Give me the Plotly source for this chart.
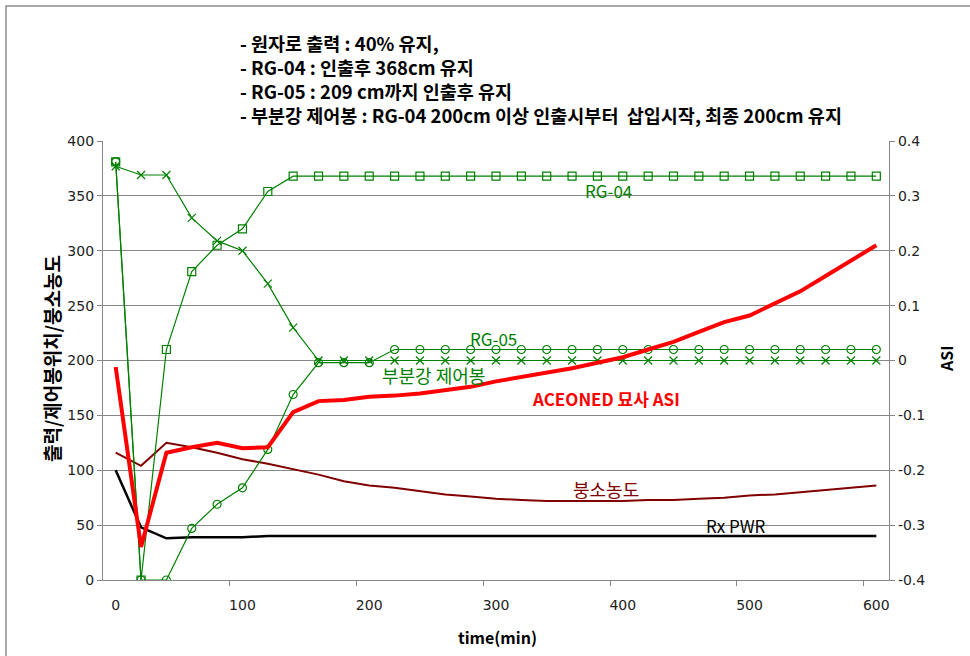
import plotly.graph_objects as go

# ---------------- data ----------------
time_min = list(range(0, 601, 20))

rx_pwr = [100, 48, 38, 39, 39, 39, 40, 40, 40, 40, 40, 40, 40, 40, 40, 40,
          40, 40, 40, 40, 40, 40, 40, 40, 40, 40, 40, 40, 40, 40, 40]

boron = [116, 104, 125, 121, 116, 110, 106, 101, 96, 90, 86, 84, 81, 78, 76, 74,
         73, 72, 72, 72, 72, 73, 73, 74, 75, 77, 78, 80, 82, 84, 86]

rg04 = [381, 0, 210, 281, 305, 320, 354, 368, 368, 368, 368, 368, 368, 368, 368, 368,
        368, 368, 368, 368, 368, 368, 368, 368, 368, 368, 368, 368, 368, 368, 368]

rg05 = [381, 0, 0, 47, 69, 84, 119, 169, 198, 198, 198, 210, 210, 210, 210, 210,
        210, 210, 210, 210, 210, 210, 210, 210, 210, 210, 210, 210, 210, 210, 210]

part_rod = [377, 369, 369, 330, 309, 300, 270, 230, 200, 200, 200, 200, 200, 200, 200, 200,
            200, 200, 200, 200, 200, 200, 200, 200, 200, 200, 200, 200, 200, 200, 200]

asi = [-0.012, -0.34, -0.168, -0.158, -0.15, -0.16, -0.158, -0.094, -0.074, -0.072, -0.066,
       -0.064, -0.06, -0.054, -0.048, -0.038, -0.03, -0.022, -0.014, -0.004, 0.006,
       0.02, 0.034, 0.052, 0.07, 0.082, 0.104, 0.126, 0.154, 0.182, 0.21]

x_tick_vals = [0, 100, 200, 300, 400, 500, 600]
x_minor_ticks = [90, 190, 290, 390, 490, 590]
y_left_ticks = list(range(0, 401, 50))
y_right_ticks = [-0.4, -0.3, -0.2, -0.1, 0, 0.1, 0.2, 0.3, 0.4]
y_right_text = ["-0.4", "-0.3", "-0.2", "-0.1", "0", "0.1", "0.2", "0.3", "0.4"]

title_lines = [
    "- 원자로 출력 : 40% 유지,",
    "- RG-04 : 인출후 368cm 유지",
    "- RG-05 : 209 cm까지 인출후 유지",
    "- 부분강 제어봉 : RG-04 200cm 이상 인출시부터  삽입시작, 최종 200cm 유지",
]

GREEN = "#008000"
DARKRED = "#800000"
RED = "#ff0000"
GRID = "#878787"
KFONT = "Noto Sans CJK KR"
TFONT = "DejaVu Sans"

fig = go.Figure()

fig.add_trace(go.Scatter(x=time_min, y=rx_pwr, mode="lines", name="Rx PWR",
                         line=dict(color="black", width=2.5)))
fig.add_trace(go.Scatter(x=time_min, y=boron, mode="lines", name="붕소농도",
                         line=dict(color=DARKRED, width=2)))
fig.add_trace(go.Scatter(x=time_min, y=part_rod, mode="lines+markers", name="부분강 제어봉",
                         line=dict(color=GREEN, width=1.2),
                         marker=dict(symbol="x-thin", size=8, color=GREEN,
                                     line=dict(color=GREEN, width=1.2))))
fig.add_trace(go.Scatter(x=time_min, y=rg05, mode="lines+markers", name="RG-05",
                         line=dict(color=GREEN, width=1.2),
                         marker=dict(symbol="circle-open", size=8, color=GREEN,
                                     line=dict(color=GREEN, width=1.2))))
fig.add_trace(go.Scatter(x=time_min, y=rg04, mode="lines+markers", name="RG-04",
                         line=dict(color=GREEN, width=1.2),
                         marker=dict(symbol="square-open", size=8, color=GREEN,
                                     line=dict(color=GREEN, width=1.2))))
fig.add_trace(go.Scatter(x=time_min, y=asi, mode="lines", name="ACEONED 묘사 ASI",
                         yaxis="y2", line=dict(color=RED, width=4)))

annotations = []
annotations.append(dict(text="<b>" + "<br>".join(title_lines) + "</b>",
                        xref="paper", yref="paper", x=0.1718, y=1.1412,
                        xanchor="left", yanchor="middle", align="left", showarrow=False,
                        font=dict(family=KFONT, size=18.5, color="black")))

labels = [
    ("RG-04", 389, 355, GREEN, False, 17),
    ("RG-05", 298, 220.5, GREEN, False, 17),
    ("부분강 제어봉", 251, 187, GREEN, False, 18),
    ("ACEONED 묘사 ASI", 387, 165, RED, True, 17),
    ("붕소농도", 387, 83, DARKRED, False, 18),
    ("Rx PWR", 489, 50, "black", False, 17),
]
for txt, lx, ly, col, bold, fs in labels:
    annotations.append(dict(text=("<b>%s</b>" % txt) if bold else txt,
                            x=lx, y=ly, xref="x", yref="y", showarrow=False,
                            xanchor="center", yanchor="middle",
                            font=dict(family=KFONT, size=fs, color=col)))

annotations.append(dict(text="<b>출력/제어봉위치/붕소농도</b>", xref="paper", yref="paper",
                        x=-0.0649, y=0.5057, textangle=-90, showarrow=False,
                        xanchor="center", yanchor="middle",
                        font=dict(family=KFONT, size=19, color="black")))
annotations.append(dict(text="<b>ASI</b>", xref="paper", yref="paper",
                        x=1.0725, y=0.5057, textangle=-90, showarrow=False,
                        xanchor="center", yanchor="middle",
                        font=dict(family=KFONT, size=16, color="black")))
annotations.append(dict(text="<b>time(min)</b>", xref="paper", yref="paper",
                        x=0.5025, y=-0.1298, showarrow=False,
                        xanchor="center", yanchor="middle",
                        font=dict(family=KFONT, size=16, color="black")))

fig.update_layout(
    width=970, height=656,
    margin=dict(l=103, r=81, t=141, b=76),
    paper_bgcolor="white", plot_bgcolor="white",
    showlegend=False,
    annotations=annotations,
    shapes=[dict(type="rect", xref="paper", yref="paper",
                 x0=-0.1234, x1=1.3, y0=-0.4, y1=1.3075,
                 line=dict(color="#8c8c8c", width=1.5), layer="below")],
    xaxis=dict(range=[-10, 610], tickmode="array", tickvals=x_tick_vals,
               ticks="", showgrid=False, zeroline=False,
               showline=True, linecolor=GRID, linewidth=1.2,
               ticklabelstandoff=12,
               tickfont=dict(family=TFONT, size=14, color="#222"),
               minor=dict(tickmode="array", tickvals=x_minor_ticks, ticks="outside",
                          ticklen=5, tickcolor=GRID, tickwidth=1.2, showgrid=False)),
    yaxis=dict(range=[0, 400], tickmode="array", tickvals=y_left_ticks,
               ticks="outside", ticklen=5, tickcolor=GRID, tickwidth=1.2,
               showgrid=True, gridcolor=GRID, gridwidth=1.2, zeroline=False,
               showline=True, linecolor=GRID, linewidth=1.2,
               tickfont=dict(family=TFONT, size=14, color="#222")),
    yaxis2=dict(range=[-0.4, 0.4], overlaying="y", side="right",
                tickmode="array", tickvals=y_right_ticks, ticktext=y_right_text,
                ticks="outside", ticklen=5, tickcolor=GRID, tickwidth=1.2,
                showgrid=False, zeroline=False,
                showline=True, linecolor=GRID, linewidth=1.2,
                tickfont=dict(family=TFONT, size=14, color="#222")),
)

fig.write_html("out.html")
